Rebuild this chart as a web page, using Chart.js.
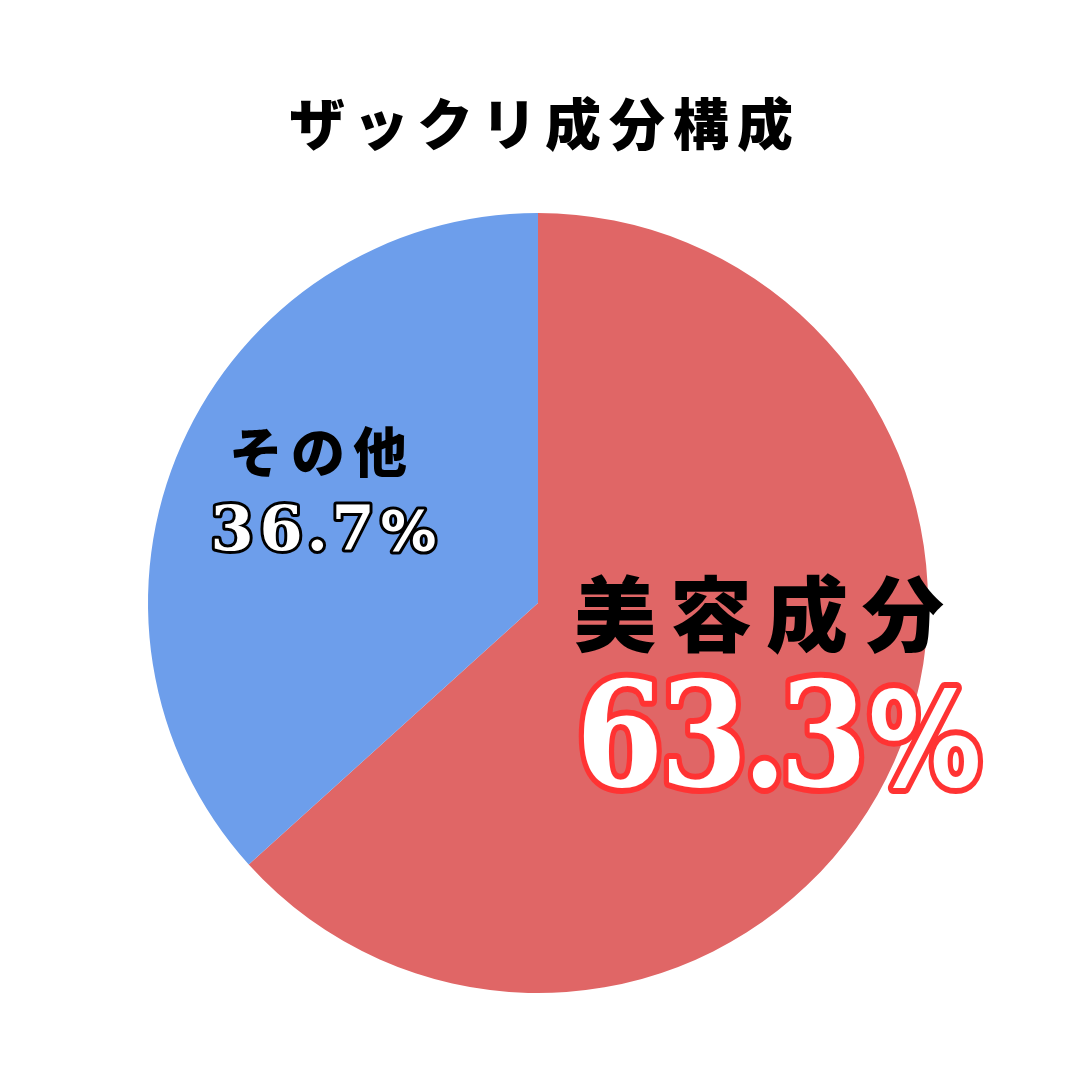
<!DOCTYPE html>
<html>
<head>
<meta charset="utf-8">
<script src="https://cdn.jsdelivr.net/npm/chart.js@4"></script>
<style>
  html, body { margin: 0; padding: 0; background: #fff; }
  canvas { display: block; }
</style>
</head>
<body>
<canvas id="pieChart" width="1080" height="1080"></canvas>
<script>
const chartTitle = 'ザックリ成分構成';
const categories = ['美容成分', 'その他'];
const shares = [63.3, 36.7];
const sliceColors = ['#e06666', '#6d9eeb'];

document.addEventListener("DOMContentLoaded", () => {
    const ctx = document.getElementById('pieChart').getContext('2d');
    const jpFont = '"Noto Sans CJK JP", "Noto Sans", sans-serif';
    const numFont = '"DejaVu Serif", "Liberation Serif", serif';
    const pctFont = '"DejaVu Sans", sans-serif';

    // outlined text, glyphs placed by their ink box; the % sign uses a plainer font
    const outlined = (c, text, cx, y, size, gap, stroke, lw) => {
        c.textAlign = 'left';
        c.letterSpacing = '0px';
        const chars = [...text];
        const fonts = chars.map(ch => ch === '%' ? `bold ${size * 0.9}px ${pctFont}` : `bold ${size}px ${numFont}`);
        const boxes = chars.map((ch, i) => {
            c.font = fonts[i];
            const m = c.measureText(ch);
            return { left: m.actualBoundingBoxLeft, width: m.actualBoundingBoxLeft + m.actualBoundingBoxRight };
        });
        const total = boxes.reduce((a, b) => a + b.width, 0) + gap * (chars.length - 1);
        const xs = [];
        let x = cx - total / 2;
        boxes.forEach(b => { xs.push(x + b.left); x += b.width + gap; });

        c.lineJoin = 'round';
        c.lineWidth = lw;
        c.strokeStyle = stroke;
        chars.forEach((ch, i) => { c.font = fonts[i]; c.strokeText(ch, xs[i], y); });
        c.fillStyle = '#fff';
        chars.forEach((ch, i) => { c.font = fonts[i]; c.fillText(ch, xs[i], y); });
    };

    // draws the title and the two in-slice labels
    const labelPlugin = {
        id: 'sliceLabels',
        afterDraw(chart) {
            const c = chart.ctx;
            c.save();
            c.textAlign = 'center';

            // title
            c.fillStyle = '#000';
            c.font = `900 56px ${jpFont}`;
            c.letterSpacing = '8px';
            c.textBaseline = 'middle';
            c.fillText(chartTitle, 545, 124);

            const pct = shares.map(v => v.toFixed(1) + '%');

            // small slice (その他)
            c.font = `900 54px ${jpFont}`;
            c.letterSpacing = '8px';
            c.fillText(categories[1], 322, 452);

            c.textBaseline = 'alphabetic';
            outlined(c, pct[1], 325, 550, 62, 12, '#000', 6);

            // big slice (美容成分)
            c.textAlign = 'center';
            c.fillStyle = '#000';
            c.font = `900 82px ${jpFont}`;
            c.letterSpacing = '14px';
            c.textBaseline = 'middle';
            c.fillText(categories[0], 766, 614);

            c.save();
            c.translate(781, 786);
            c.scale(0.86, 1);
            c.textBaseline = 'alphabetic';
            outlined(c, pct[0], 0, 0, 146, 14, '#ff3333', 12);
            c.restore();

            c.restore();
        }
    };

    new Chart(ctx, {
        type: 'pie',
        data: {
            labels: categories,
            datasets: [{
                data: shares,
                backgroundColor: sliceColors,
                borderWidth: 0
            }]
        },
        options: {
            responsive: false,
            animation: false,
            layout: {
                padding: { top: 213, bottom: 87, left: 148, right: 152 }
            },
            plugins: {
                legend: { display: false },
                tooltip: { enabled: false },
                title: { display: false }
            }
        },
        plugins: [labelPlugin]
    });
});
</script>
</body>
</html>
